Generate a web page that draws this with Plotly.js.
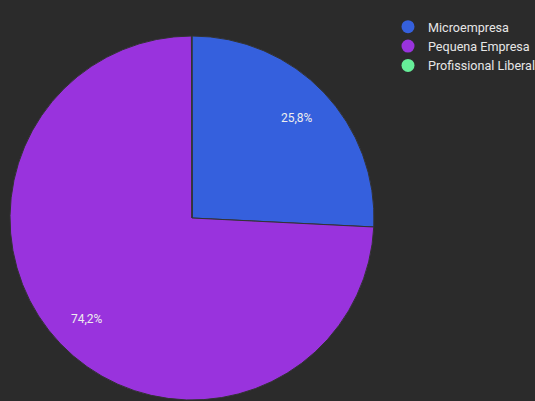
<!DOCTYPE html>
<html>
<head>
<meta charset="utf-8">
<script src="https://cdn.plot.ly/plotly-3.0.1.min.js"></script>
<style>html,body{margin:0;padding:0;background:#2b2b2b;}#chart{width:535px;height:401px;}</style>
</head>
<body>
<div id="chart"></div>
<script>
var categories = ["Microempresa", "Pequena Empresa", "Profissional Liberal"];
var values = [516, 1484, 1];
var colors = ["#3560dd", "#9933dd", "#66ee99"];

var W = 535, H = 401;
var pieCx = 192, pieCy = 218, pieR = 182;
var domX = [(pieCx - pieR) / W, (pieCx + pieR) / W];
var domY = [1 - (pieCy + pieR) / H, 1 - (pieCy - pieR) / H];

var traces = [{
  type: "pie",
  labels: categories,
  values: values,
  sort: false,
  direction: "clockwise",
  rotation: 0,
  marker: {colors: colors, line: {color: "#333333", width: 1}},
  textinfo: "none",
  textposition: "none",
  showlegend: false,
  hoverinfo: "none",
  domain: {x: domX, y: domY}
}];

categories.forEach(function (c, i) {
  traces.push({
    type: "scatter",
    mode: "markers",
    x: [null], y: [null],
    name: c,
    marker: {color: colors[i], size: 13, symbol: "circle"},
    showlegend: true,
    hoverinfo: "none"
  });
});

// percentage labels placed along each slice's bisector, derived from the values
var total = values.reduce(function (a, b) { return a + b; }, 0);
var annotations = [];
var cum = 0;
values.forEach(function (v) {
  var frac = v / total;
  var mid = (cum + frac / 2) * 2 * Math.PI;
  cum += frac;
  if (frac < 0.01) return;
  var px = pieCx + 0.8 * pieR * Math.sin(mid);
  var py = pieCy - 0.8 * pieR * Math.cos(mid);
  annotations.push({
    xref: "paper", yref: "paper",
    x: px / W, y: 1 - py / H,
    xanchor: "center", yanchor: "middle",
    showarrow: false,
    text: (frac * 100).toFixed(1).replace(".", ",") + "%",
    font: {family: "Roboto, sans-serif", size: 12, color: "#eeeeee"}
  });
});

var layout = {
  width: W, height: H,
  paper_bgcolor: "#2b2b2b",
  plot_bgcolor: "#2b2b2b",
  margin: {l: 0, r: 0, t: 0, b: 0, autoexpand: false},
  separators: ",.",
  font: {family: "Roboto, sans-serif", size: 12.6, color: "#e6e6e6"},
  xaxis: {visible: false},
  yaxis: {visible: false},
  showlegend: true,
  annotations: annotations,
  legend: {x: 388/535, y: 1 - 12/401, xanchor: "left", yanchor: "top",
           bgcolor: "rgba(0,0,0,0)", font: {size: 12.6, color: "#e6e6e6"},
           tracegroupgap: 0, itemwidth: 30}
};

Plotly.newPlot("chart", traces, layout, {displayModeBar: false, staticPlot: true});
</script>
</body>
</html>
